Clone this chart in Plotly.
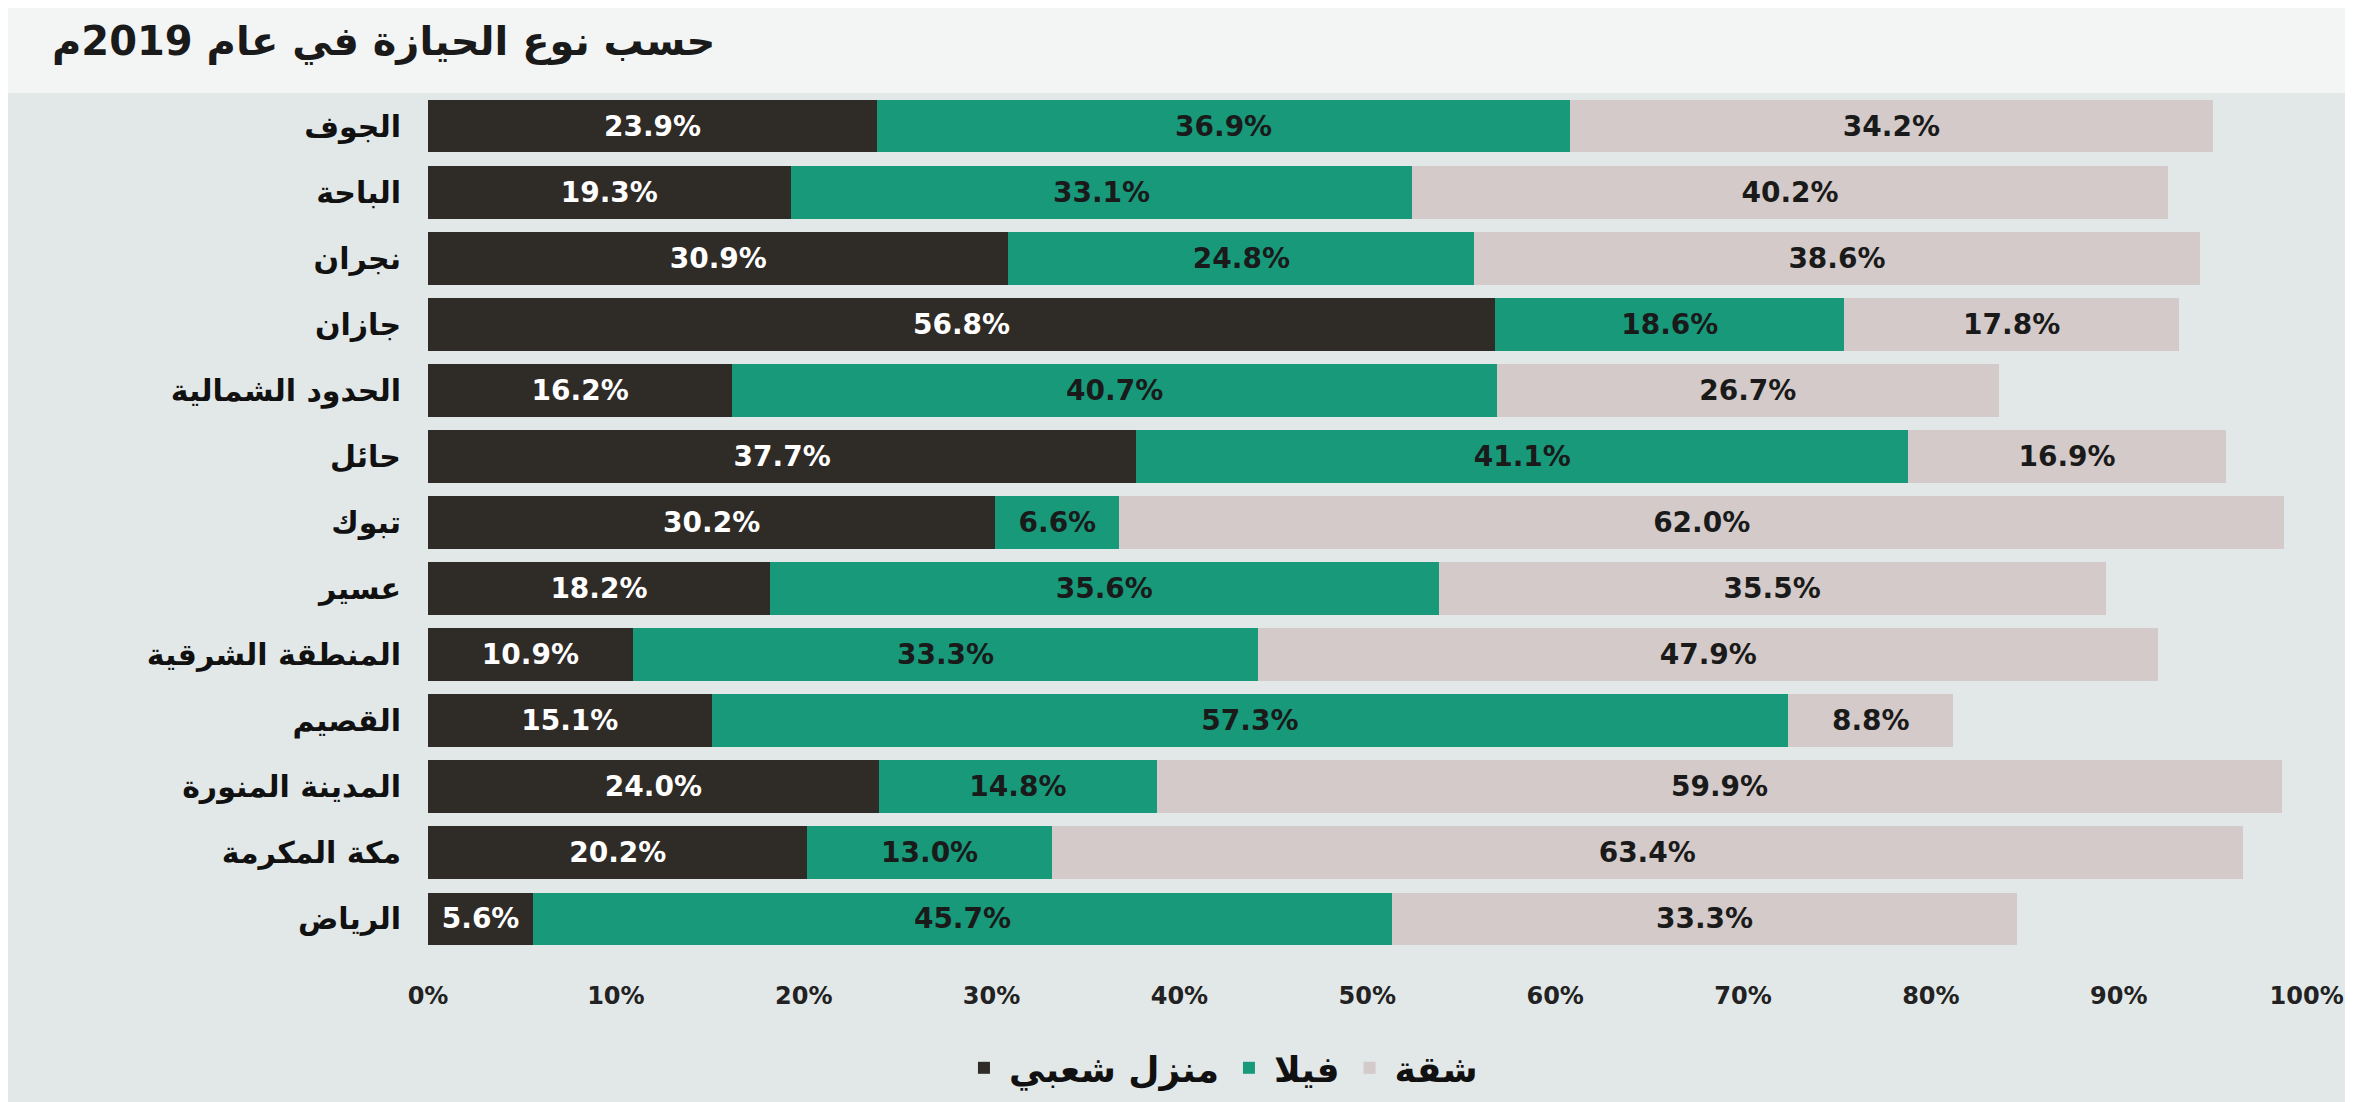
import plotly.graph_objects as go

regions = ["الجوف", "الباحة", "نجران", "جازان", "الحدود الشمالية", "حائل", "تبوك",
           "عسير", "المنطقة الشرقية", "القصيم", "المدينة المنورة", "مكة المكرمة", "الرياض"]
popular_house = [23.9, 19.3, 30.9, 56.8, 16.2, 37.7, 30.2, 18.2, 10.9, 15.1, 24.0, 20.2, 5.6]
villa = [36.9, 33.1, 24.8, 18.6, 40.7, 41.1, 6.6, 35.6, 33.3, 57.3, 14.8, 13.0, 45.7]
apartment = [34.2, 40.2, 38.6, 17.8, 26.7, 16.9, 62.0, 35.5, 47.9, 8.8, 59.9, 63.4, 33.3]

series_names = ["منزل شعبي", "فيلا", "شقة"]
series_values = [popular_house, villa, apartment]
colors = ["#2f2b27", "#17997a", "#d3cac9"]
text_colors = ["#ffffff", "#1a1a1a", "#1a1a1a"]

tick_vals = [0, 10, 20, 30, 40, 50, 60, 70, 80, 90, 100]
tick_text = ["0%", "10%", "20%", "30%", "40%", "50%", "60%", "70%", "80%", "90%", "100%"]

title_text = "حسب نوع الحيازة في عام 2019م"

fig = go.Figure()
for name, vals, col, tcol in zip(series_names, series_values, colors, text_colors):
    fig.add_trace(go.Bar(
        y=regions, x=vals, name=name, orientation="h",
        marker=dict(color=col, line=dict(width=0)),
        text=[f"{v:.1f}%" for v in vals],
        textposition="inside", insidetextanchor="middle",
        textfont=dict(family="DejaVu Sans", size=28, color=tcol),
        texttemplate="<b>%{text}</b>",
        hoverinfo="skip",
    ))

fig.update_layout(
    barmode="stack",
    bargap=0.2,
    width=2353, height=1102,
    paper_bgcolor="#e2e8e8",
    plot_bgcolor="#e2e8e8",
    margin=dict(l=420, r=45, t=85, b=150),
    font=dict(family="DejaVu Sans", color="#1a1a1a"),
    uniformtext=dict(minsize=10, mode="show"),
    xaxis=dict(range=[0, 100.5], tickvals=tick_vals, ticktext=tick_text,
               showgrid=False, zeroline=False, showline=False,
               tickfont=dict(family="DejaVu Sans", size=24, color="#222222", weight="bold"),
               ticks="outside", ticklen=22, tickcolor="rgba(0,0,0,0)"),
    yaxis=dict(categoryorder="array", categoryarray=regions, autorange="reversed",
               showgrid=False, zeroline=False, showline=False, ticks="outside",
               ticklen=20, tickcolor="rgba(0,0,0,0)",
               tickfont=dict(family="DejaVu Sans", size=30, color="#111111", weight="bold")),
    legend=dict(orientation="h", x=0.42, xanchor="center", y=-0.1, yanchor="top",
                font=dict(family="DejaVu Sans", size=36, color="#111111", weight="bold"),
                bgcolor="rgba(0,0,0,0)", itemwidth=40, traceorder="normal"),
    shapes=[dict(type="rect", xref="paper", yref="paper", x0=-0.25, x1=1.03,
                 y0=1.0, y1=1.12, fillcolor="#f3f5f5", line=dict(width=0), layer="below")],
    annotations=[dict(text="<b>" + title_text + "</b>", xref="paper", yref="paper",
                      x=-0.2, xanchor="left", y=1.06, yanchor="middle", showarrow=False,
                      font=dict(family="DejaVu Sans", size=40, color="#1a1a1a"))],
)

fig.write_html("out.html")
